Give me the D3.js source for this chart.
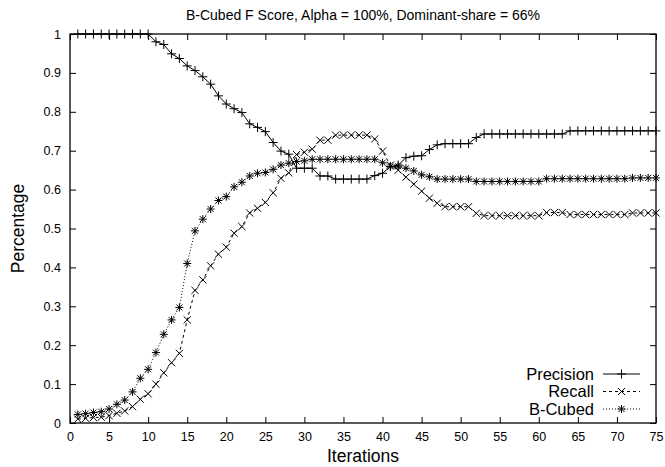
<!DOCTYPE html>
<html>
<head>
<meta charset="utf-8">
<script src="https://cdn.jsdelivr.net/npm/d3@7"></script>
<style>
  body { margin: 0; background: #fff; }
  svg { display: block; font-family: "Liberation Sans", Arial, sans-serif; }
</style>
</head>
<body>
<svg id="chart" width="665" height="467"></svg>
<script>
var iterations = d3.range(1, 76);

var precision = [
  1, 1, 1, 1, 1, 1, 1, 1, 1, 1,
  0.980, 0.973, 0.949, 0.937, 0.918, 0.906, 0.890, 0.871, 0.841, 0.820,
  0.808, 0.798, 0.769, 0.760, 0.749, 0.721, 0.699, 0.691, 0.655, 0.655,
  0.655, 0.635, 0.635, 0.627, 0.627, 0.627, 0.627, 0.627, 0.636, 0.642,
  0.659, 0.663, 0.682, 0.686, 0.687, 0.703, 0.715, 0.718, 0.718, 0.718,
  0.718, 0.734, 0.743, 0.743, 0.743, 0.743, 0.743, 0.743, 0.743, 0.743,
  0.743, 0.743, 0.743, 0.751, 0.751, 0.751, 0.751, 0.751, 0.751, 0.751,
  0.751, 0.751, 0.751, 0.751, 0.751
];

var recall = [
  0.010, 0.012, 0.014, 0.015, 0.019, 0.025, 0.031, 0.042, 0.061, 0.075,
  0.100, 0.129, 0.155, 0.179, 0.265, 0.341, 0.368, 0.404, 0.434, 0.452,
  0.488, 0.505, 0.540, 0.552, 0.567, 0.592, 0.629, 0.643, 0.690, 0.696,
  0.704, 0.727, 0.727, 0.740, 0.740, 0.740, 0.740, 0.740, 0.730, 0.699,
  0.663, 0.650, 0.632, 0.614, 0.596, 0.578, 0.565, 0.556, 0.556, 0.556,
  0.556, 0.539, 0.533, 0.533, 0.533, 0.533, 0.533, 0.533, 0.533, 0.533,
  0.541, 0.541, 0.541, 0.536, 0.536, 0.536, 0.536, 0.536, 0.536, 0.536,
  0.536, 0.540, 0.540, 0.540, 0.540
];

var bcubed = [
  0.022, 0.024, 0.027, 0.029, 0.036, 0.048, 0.059, 0.080, 0.115, 0.138,
  0.181, 0.228, 0.265, 0.297, 0.410, 0.494, 0.524, 0.550, 0.572, 0.582,
  0.607, 0.619, 0.635, 0.642, 0.644, 0.652, 0.663, 0.668, 0.672, 0.674,
  0.678, 0.678, 0.678, 0.678, 0.678, 0.678, 0.678, 0.678, 0.678, 0.669,
  0.659, 0.660, 0.655, 0.648, 0.638, 0.633, 0.627, 0.627, 0.627, 0.627,
  0.627, 0.621, 0.621, 0.621, 0.621, 0.621, 0.621, 0.621, 0.621, 0.621,
  0.628, 0.628, 0.628, 0.628, 0.628, 0.628, 0.628, 0.628, 0.628, 0.628,
  0.628, 0.630, 0.630, 0.630, 0.630
];

var seriesNames = ["Precision", "Recall", "B-Cubed"];
var xTicks = d3.range(0, 80, 5);
var yTicks = d3.range(0, 11).map(function(d){ return d / 10; });

var svg = d3.select("#chart");
var margin = {top: 34, right: 9, bottom: 44, left: 70};
var width = +svg.attr("width") - margin.left - margin.right;
var height = +svg.attr("height") - margin.top - margin.bottom;
var g = svg.append("g").attr("transform", "translate(" + margin.left + "," + margin.top + ")");

var x = d3.scaleLinear().domain([0, 75]).range([0, width]);
var y = d3.scaleLinear().domain([0, 1]).range([height, 0]);

// gnuplot style: ticks pointing inward, mirrored on all sides
function styleAxis(sel){
  sel.select(".domain").remove();
  sel.selectAll(".tick line").attr("stroke", "#000").attr("stroke-width", 1);
  sel.selectAll(".tick text").attr("font-size", 12.5).attr("fill", "#000");
}

g.append("g")
  .attr("transform", "translate(0," + height + ")")
  .call(d3.axisBottom(x).tickValues(xTicks).tickSizeInner(-6).tickPadding(9).tickFormat(d3.format("d")))
  .call(styleAxis);
g.append("g")
  .call(d3.axisTop(x).tickValues(xTicks).tickSizeInner(-6).tickFormat(""))
  .call(styleAxis);
g.append("g")
  .call(d3.axisLeft(y).tickValues(yTicks).tickSizeInner(-6).tickPadding(9).tickFormat(function(d){ return d === 0 || d === 1 ? d3.format("d")(d) : d3.format(".1f")(d); }))
  .call(styleAxis);
g.append("g")
  .attr("transform", "translate(" + width + ",0)")
  .call(d3.axisRight(y).tickValues(yTicks).tickSizeInner(-6).tickFormat(""))
  .call(styleAxis);

g.append("rect")
  .attr("width", width).attr("height", height)
  .attr("fill", "none").attr("stroke", "#000").attr("stroke-width", 1.3);

// markers
function plusPath(cx, cy, r){
  return "M" + (cx - r) + "," + cy + "H" + (cx + r) + "M" + cx + "," + (cy - r) + "V" + (cy + r);
}
function crossPath(cx, cy, r){
  return "M" + (cx - r) + "," + (cy - r) + "L" + (cx + r) + "," + (cy + r) +
         "M" + (cx - r) + "," + (cy + r) + "L" + (cx + r) + "," + (cy - r);
}
function starPath(cx, cy, r){
  return plusPath(cx, cy, r) + crossPath(cx, cy, r * 0.75);
}

var series = [
  {name: seriesNames[0], values: precision, dash: null, marker: plusPath, r: 4.5},
  {name: seriesNames[1], values: recall, dash: "3,3", marker: crossPath, r: 3.6},
  {name: seriesNames[2], values: bcubed, dash: "1,2", marker: starPath, r: 4}
];

var lineFunc = d3.line()
  .x(function(d){ return x(d.x); })
  .y(function(d){ return y(d.y); });

series.forEach(function(s){
  var pts = iterations.map(function(it, i){ return {x: it, y: s.values[i]}; });
  g.append("path")
    .attr("d", lineFunc(pts))
    .attr("fill", "none")
    .attr("stroke", "#000")
    .attr("stroke-width", 1)
    .attr("stroke-dasharray", s.dash);
  g.append("path")
    .attr("d", pts.map(function(p){ return s.marker(x(p.x), y(p.y), s.r); }).join(""))
    .attr("fill", "none")
    .attr("stroke", "#000")
    .attr("stroke-width", 1);
});

// legend
var legend = g.append("g").attr("transform", "translate(" + (width - 62) + "," + (height - 49) + ")");
series.forEach(function(s, i){
  var row = legend.append("g").attr("transform", "translate(0," + (i * 17.5) + ")");
  row.append("text")
    .attr("x", 0).attr("y", 5.5)
    .attr("text-anchor", "end")
    .attr("font-size", 16.5)
    .text(s.name);
  row.append("line")
    .attr("x1", 9).attr("x2", 46).attr("y1", 0).attr("y2", 0)
    .attr("stroke", "#000").attr("stroke-width", 1)
    .attr("stroke-dasharray", s.dash);
  row.append("path")
    .attr("d", s.marker(27.5, 0, s.r))
    .attr("fill", "none").attr("stroke", "#000").attr("stroke-width", 1);
});

// titles
svg.append("text")
  .attr("x", margin.left + width / 2).attr("y", 20)
  .attr("text-anchor", "middle").attr("font-size", 14)
  .text("B-Cubed F Score, Alpha = 100%, Dominant-share = 66%");
svg.append("text")
  .attr("x", margin.left + width / 2).attr("y", 462)
  .attr("text-anchor", "middle").attr("font-size", 17.5)
  .text("Iterations");
svg.append("text")
  .attr("transform", "translate(24," + (margin.top + height / 2) + ") rotate(-90)")
  .attr("text-anchor", "middle").attr("font-size", 17.5)
  .text("Percentage");
</script>
</body>
</html>
